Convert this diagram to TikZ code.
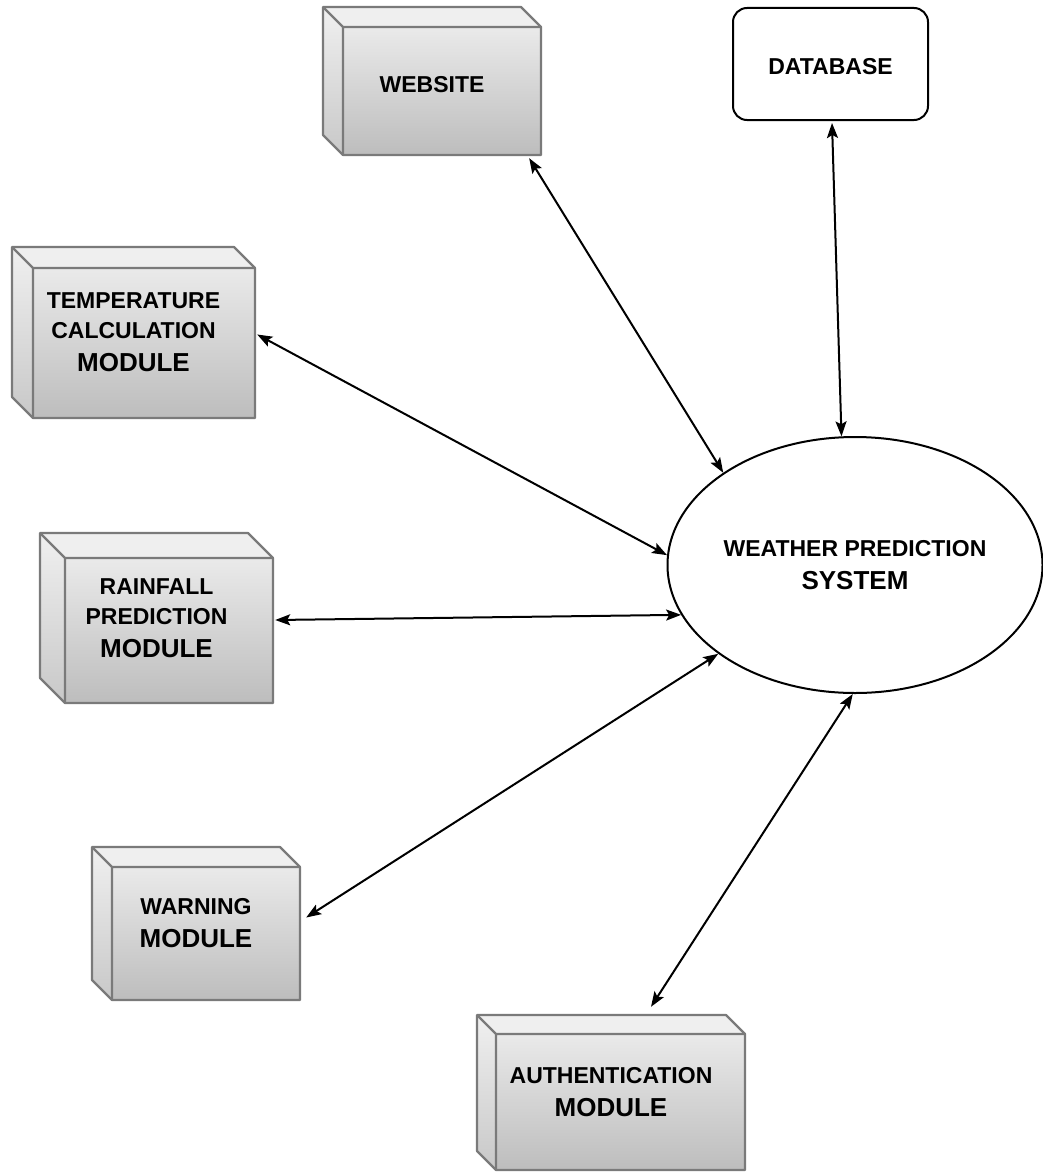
\documentclass[tikz,border=0pt]{standalone}
\usepackage{fontspec}
\setmainfont{Liberation Sans}
\usetikzlibrary{arrows.meta,calc,shapes.geometric}
\definecolor{edgegray}{HTML}{7A7A7A}
\definecolor{frontTop}{HTML}{EAEAEA}
\definecolor{frontBot}{HTML}{BDBDBD}
\definecolor{topFace}{HTML}{EFEFEF}
\definecolor{sideTop}{HTML}{F0F0F0}
\definecolor{sideBot}{HTML}{C8C8C8}
\newcommand\bigline[1]{{\fontsize{26}{33}\selectfont #1}}
% name, x1, y1, x2, y2, depth, text
\newcommand\cubebox[7]{%
  \path[fill=topFace] (#2,#3) -- (#4-#6,#3) -- (#4,#3+#6) -- (#2+#6,#3+#6) -- cycle;
  \shade[top color=sideTop,bottom color=sideBot] (#2,#3) -- (#2+#6,#3+#6) -- (#2+#6,#5) -- (#2,#5-#6) -- cycle;
  \shade[top color=frontTop,bottom color=frontBot] (#2+#6,#3+#6) rectangle (#4,#5);
  \draw[cubeedge] (#2,#3) -- (#4-#6,#3) -- (#4,#3+#6) -- (#4,#5) -- (#2+#6,#5) -- (#2,#5-#6) -- cycle;
  \draw[cubeedge] (#2,#3) -- (#2+#6,#3+#6) -- (#4,#3+#6) (#2+#6,#3+#6) -- (#2+#6,#5);
  \node[boxtext, minimum width=#4pt-#2pt, minimum height=#5pt-#3pt] (#1) at ({(#2+#4)/2},{(#3+#5)/2}) {#7};
}
\tikzset{
  cubeedge/.style={draw=edgegray, line width=2.2pt, line join=round},
  boxtext/.style={inner sep=0pt, align=center, font=\fontsize{23}{30}\selectfont\bfseries},
  conn/.style={line width=2pt, {Stealth[length=15pt,width=11pt,inset=3pt]}-{Stealth[length=15pt,width=11pt,inset=3pt]}},
}
\begin{document}
\begin{tikzpicture}[x=1pt,y=-1pt]
\useasboundingbox (0,0) rectangle (1043,1172);
\fill[white] (0,0) rectangle (1043,1172);

\cubebox{web}{323}{7}{541}{155}{20}{\rule{0pt}{22.5pt}WEBSITE}
\cubebox{temp}{12}{247}{255}{418}{21}{TEMPERATURE\\CALCULATION\\[3pt]\bigline{MODULE}}
\cubebox{rain}{40}{533}{273}{703}{25}{RAINFALL\\PREDICTION\\[3pt]\bigline{MODULE}}
\cubebox{warn}{92}{847}{300}{1000}{20}{WARNING\\[3pt]\bigline{MODULE}}
\cubebox{auth}{477}{1015}{745}{1170}{19}{AUTHENTICATION\\[3pt]\bigline{MODULE}}

\node[draw, line width=2pt, rounded corners=14pt, minimum width=195pt, minimum height=112pt, font=\fontsize{23}{30}\selectfont\bfseries] (db) at (830.5,64) {\rule{0pt}{22pt}DATABASE};

\node[ellipse, draw, line width=2pt, minimum width=375pt, minimum height=256pt, inner sep=0pt, align=center, font=\fontsize{23}{30}\selectfont\bfseries] (wps) at (855,565) {WEATHER PREDICTION\\[3pt]\bigline{SYSTEM}};

\draw[conn] ($(web.south east)+(-12,3)$) -- (wps.145.8);
\draw[conn] ($(db.south)+(1.5,2)$) -- (wps.96.6);
\draw[conn] ($(temp.east)+(2,2)$) -- (wps.177.7);
\draw[conn] ($(rain.east)+(2,2)$) -- (wps.196.2);
\draw[conn] ($(warn.east)+(6,-6)$) -- (wps.213.7);
\draw[conn] ($(auth.north)+(40,-8)$) -- (wps.269);
\end{tikzpicture}
\end{document}
